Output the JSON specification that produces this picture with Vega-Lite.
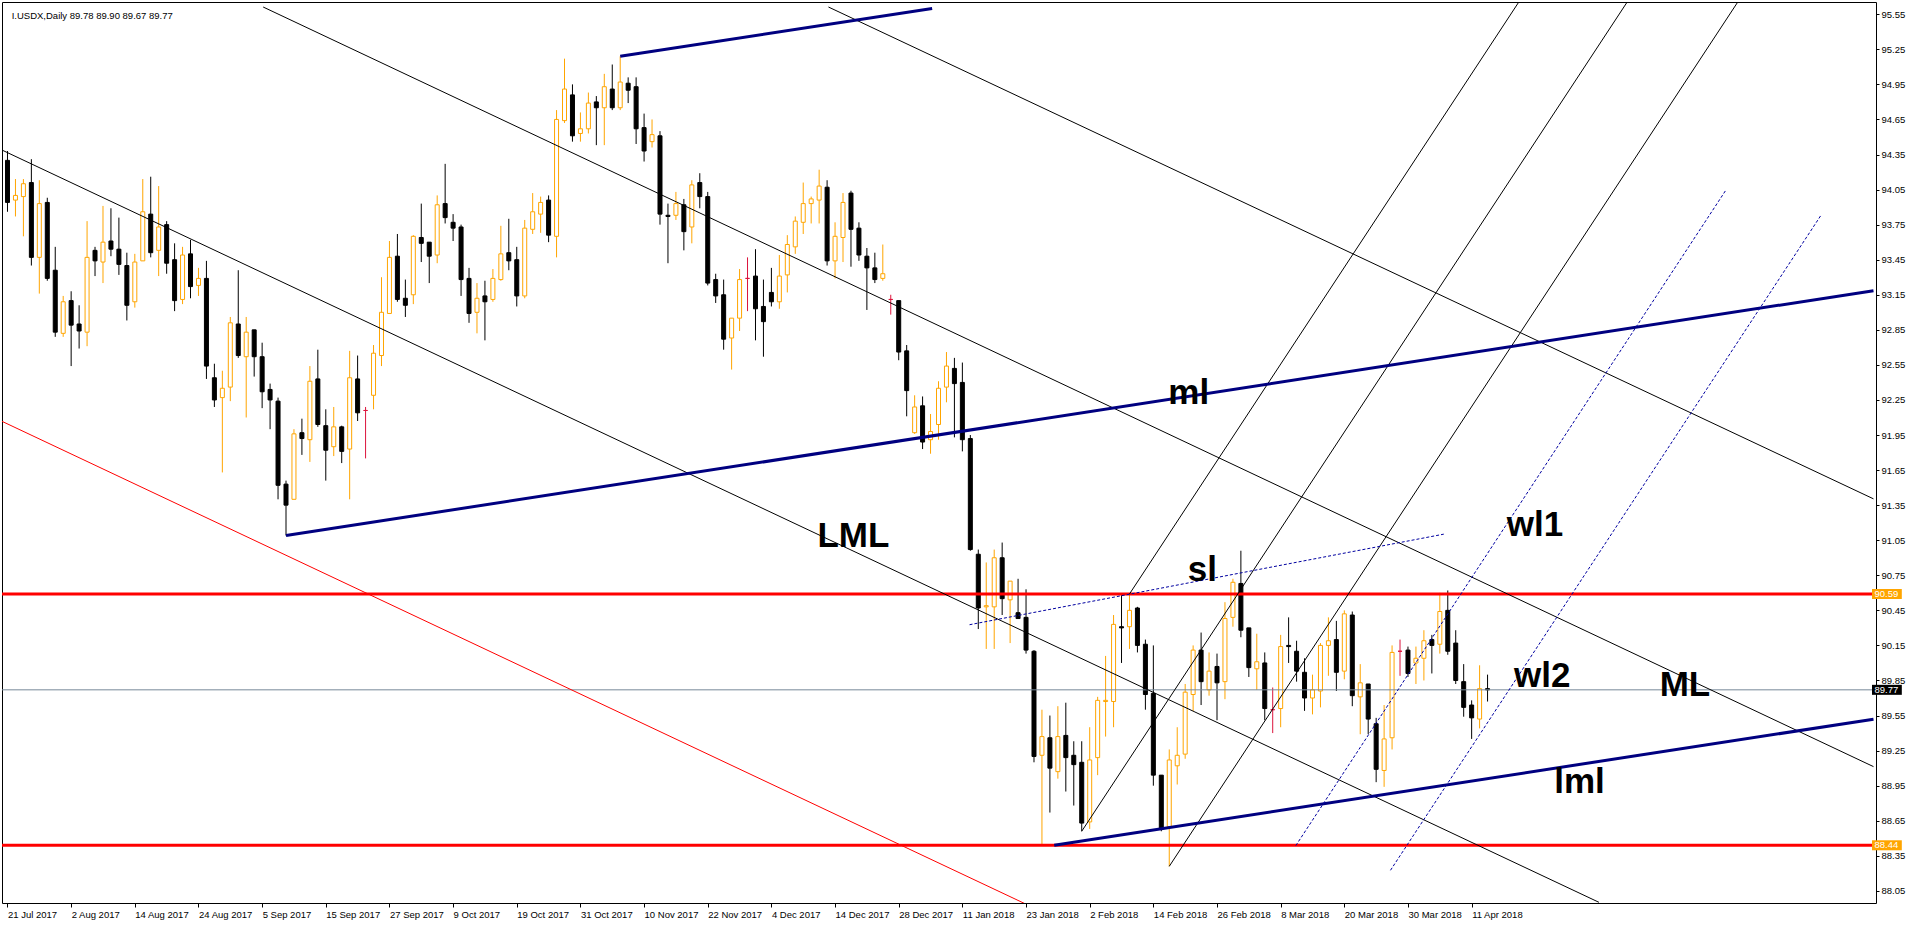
{
  "$schema": "https://vega.github.io/schema/vega-lite/v6.json",
  "width": 1874,
  "height": 901,
  "autosize": {"type": "none"},
  "padding": {"left": 2, "top": 2, "right": 37, "bottom": 22},
  "background": "white",
  "config": {
    "view": {"stroke": "#000000", "strokeWidth": 1},
    "axis": {"labelFont": "Liberation Sans", "labelFontSize": 9.5, "labelColor": "#000000", "tickColor": "#000000", "domain": false, "grid": false, "labelOverlap": false, "labelFlush": false, "labelBound": false, "title": null},
    "axisY": {"labelOverlap": false, "tickCount": 40},
    "axisX": {"labelOverlap": false, "tickCount": 40}
  },
  "datasets": {
    "candles": [
      {"i":0,"o":94.30,"h":94.38,"l":93.86,"c":93.94,"t":"d"},
      {"i":1,"o":93.96,"h":94.14,"l":93.82,"c":94.00,"t":"u"},
      {"i":2,"o":93.99,"h":94.14,"l":93.65,"c":94.10,"t":"u"},
      {"i":3,"o":94.11,"h":94.31,"l":93.40,"c":93.47,"t":"d"},
      {"i":4,"o":93.47,"h":94.13,"l":93.16,"c":93.93,"t":"u"},
      {"i":5,"o":93.94,"h":93.98,"l":93.27,"c":93.29,"t":"d"},
      {"i":6,"o":93.36,"h":93.56,"l":92.79,"c":92.83,"t":"d"},
      {"i":7,"o":92.82,"h":93.14,"l":92.79,"c":93.09,"t":"u"},
      {"i":8,"o":93.10,"h":93.18,"l":92.54,"c":92.89,"t":"d"},
      {"i":9,"o":92.90,"h":93.06,"l":92.69,"c":92.84,"t":"d"},
      {"i":10,"o":92.83,"h":93.78,"l":92.71,"c":93.47,"t":"u"},
      {"i":11,"o":93.53,"h":93.56,"l":93.31,"c":93.44,"t":"d"},
      {"i":12,"o":93.43,"h":93.91,"l":93.25,"c":93.60,"t":"u"},
      {"i":13,"o":93.61,"h":93.89,"l":93.48,"c":93.54,"t":"d"},
      {"i":14,"o":93.54,"h":93.81,"l":93.32,"c":93.41,"t":"d"},
      {"i":15,"o":93.40,"h":93.51,"l":92.93,"c":93.06,"t":"d"},
      {"i":16,"o":93.09,"h":93.50,"l":93.04,"c":93.43,"t":"u"},
      {"i":17,"o":93.44,"h":94.14,"l":93.44,"c":93.86,"t":"u"},
      {"i":18,"o":93.84,"h":94.16,"l":93.47,"c":93.51,"t":"d"},
      {"i":19,"o":93.53,"h":94.08,"l":93.31,"c":93.73,"t":"u"},
      {"i":20,"o":93.75,"h":93.78,"l":93.33,"c":93.42,"t":"d"},
      {"i":21,"o":93.45,"h":93.59,"l":93.01,"c":93.10,"t":"d"},
      {"i":22,"o":93.11,"h":93.56,"l":93.07,"c":93.49,"t":"u"},
      {"i":23,"o":93.50,"h":93.62,"l":93.12,"c":93.22,"t":"d"},
      {"i":24,"o":93.23,"h":93.38,"l":93.14,"c":93.29,"t":"u"},
      {"i":25,"o":93.29,"h":93.44,"l":92.43,"c":92.54,"t":"d"},
      {"i":26,"o":92.44,"h":92.56,"l":92.19,"c":92.25,"t":"d"},
      {"i":27,"o":92.27,"h":92.50,"l":91.63,"c":92.35,"t":"u"},
      {"i":28,"o":92.36,"h":92.96,"l":92.24,"c":92.91,"t":"u"},
      {"i":29,"o":92.90,"h":93.36,"l":92.61,"c":92.63,"t":"d"},
      {"i":30,"o":92.62,"h":92.96,"l":92.10,"c":92.83,"t":"u"},
      {"i":31,"o":92.85,"h":92.85,"l":92.45,"c":92.62,"t":"d"},
      {"i":32,"o":92.62,"h":92.74,"l":92.18,"c":92.32,"t":"d"},
      {"i":33,"o":92.34,"h":92.39,"l":92.00,"c":92.25,"t":"d"},
      {"i":34,"o":92.24,"h":92.27,"l":91.40,"c":91.52,"t":"d"},
      {"i":35,"o":91.53,"h":91.56,"l":91.09,"c":91.35,"t":"d"},
      {"i":36,"o":91.40,"h":92.00,"l":91.40,"c":91.96,"t":"u"},
      {"i":37,"o":91.97,"h":92.09,"l":91.78,"c":91.92,"t":"d"},
      {"i":38,"o":91.91,"h":92.54,"l":91.72,"c":92.41,"t":"u"},
      {"i":39,"o":92.43,"h":92.68,"l":92.02,"c":92.04,"t":"d"},
      {"i":40,"o":92.03,"h":92.17,"l":91.56,"c":91.82,"t":"d"},
      {"i":41,"o":91.85,"h":92.19,"l":91.77,"c":92.02,"t":"u"},
      {"i":42,"o":92.02,"h":92.03,"l":91.71,"c":91.81,"t":"d"},
      {"i":43,"o":91.83,"h":92.67,"l":91.40,"c":92.44,"t":"u"},
      {"i":44,"o":92.43,"h":92.63,"l":92.07,"c":92.14,"t":"d"},
      {"i":45,"o":92.16,"h":92.19,"l":91.75,"c":92.16,"t":"x"},
      {"i":46,"o":92.29,"h":92.72,"l":92.17,"c":92.65,"t":"u"},
      {"i":47,"o":92.63,"h":93.30,"l":92.54,"c":93.00,"t":"u"},
      {"i":48,"o":92.99,"h":93.61,"l":92.99,"c":93.47,"t":"u"},
      {"i":49,"o":93.48,"h":93.67,"l":93.09,"c":93.11,"t":"d"},
      {"i":50,"o":93.12,"h":93.28,"l":92.96,"c":93.06,"t":"d"},
      {"i":51,"o":93.15,"h":93.66,"l":93.07,"c":93.65,"t":"u"},
      {"i":52,"o":93.64,"h":93.93,"l":93.43,"c":93.59,"t":"d"},
      {"i":53,"o":93.60,"h":93.60,"l":93.25,"c":93.48,"t":"d"},
      {"i":54,"o":93.49,"h":94.00,"l":93.42,"c":93.92,"t":"u"},
      {"i":55,"o":93.93,"h":94.27,"l":93.76,"c":93.81,"t":"d"},
      {"i":56,"o":93.77,"h":93.84,"l":93.61,"c":93.72,"t":"d"},
      {"i":57,"o":93.73,"h":93.75,"l":93.14,"c":93.28,"t":"d"},
      {"i":58,"o":93.29,"h":93.38,"l":92.91,"c":92.99,"t":"d"},
      {"i":59,"o":93.00,"h":93.25,"l":92.82,"c":93.12,"t":"u"},
      {"i":60,"o":93.14,"h":93.27,"l":92.76,"c":93.09,"t":"d"},
      {"i":61,"o":93.11,"h":93.37,"l":93.09,"c":93.29,"t":"u"},
      {"i":62,"o":93.28,"h":93.74,"l":93.27,"c":93.50,"t":"u"},
      {"i":63,"o":93.51,"h":93.80,"l":93.36,"c":93.44,"t":"d"},
      {"i":64,"o":93.45,"h":93.56,"l":93.05,"c":93.14,"t":"d"},
      {"i":65,"o":93.14,"h":93.79,"l":93.12,"c":93.72,"t":"u"},
      {"i":66,"o":93.71,"h":94.02,"l":93.67,"c":93.86,"t":"u"},
      {"i":67,"o":93.84,"h":93.99,"l":93.68,"c":93.94,"t":"u"},
      {"i":68,"o":93.96,"h":94.00,"l":93.60,"c":93.66,"t":"d"},
      {"i":69,"o":93.65,"h":94.73,"l":93.47,"c":94.65,"t":"u"},
      {"i":70,"o":94.64,"h":95.17,"l":94.62,"c":94.91,"t":"u"},
      {"i":71,"o":94.86,"h":94.95,"l":94.46,"c":94.51,"t":"d"},
      {"i":72,"o":94.53,"h":94.71,"l":94.46,"c":94.57,"t":"u"},
      {"i":73,"o":94.57,"h":94.88,"l":94.53,"c":94.79,"t":"u"},
      {"i":74,"o":94.80,"h":94.85,"l":94.43,"c":94.75,"t":"d"},
      {"i":75,"o":94.75,"h":95.04,"l":94.43,"c":94.93,"t":"u"},
      {"i":76,"o":94.91,"h":95.12,"l":94.73,"c":94.75,"t":"d"},
      {"i":77,"o":94.75,"h":95.19,"l":94.73,"c":94.97,"t":"u"},
      {"i":78,"o":94.96,"h":95.01,"l":94.79,"c":94.90,"t":"d"},
      {"i":79,"o":94.93,"h":95.01,"l":94.44,"c":94.57,"t":"d"},
      {"i":80,"o":94.58,"h":94.70,"l":94.29,"c":94.38,"t":"d"},
      {"i":81,"o":94.46,"h":94.65,"l":94.41,"c":94.52,"t":"u"},
      {"i":82,"o":94.51,"h":94.55,"l":93.75,"c":93.84,"t":"d"},
      {"i":83,"o":93.83,"h":93.93,"l":93.42,"c":93.82,"t":"d"},
      {"i":84,"o":93.83,"h":94.03,"l":93.79,"c":93.93,"t":"u"},
      {"i":85,"o":93.92,"h":93.97,"l":93.53,"c":93.69,"t":"d"},
      {"i":86,"o":93.73,"h":94.13,"l":93.59,"c":94.09,"t":"u"},
      {"i":87,"o":94.11,"h":94.19,"l":93.89,"c":93.99,"t":"d"},
      {"i":88,"o":93.99,"h":94.03,"l":93.23,"c":93.25,"t":"d"},
      {"i":89,"o":93.28,"h":93.33,"l":93.08,"c":93.14,"t":"d"},
      {"i":90,"o":93.15,"h":93.28,"l":92.68,"c":92.77,"t":"d"},
      {"i":91,"o":92.78,"h":92.95,"l":92.51,"c":92.95,"t":"u"},
      {"i":92,"o":92.95,"h":93.37,"l":92.84,"c":93.28,"t":"u"},
      {"i":93,"o":93.29,"h":93.47,"l":93.01,"c":93.29,"t":"x"},
      {"i":94,"o":93.31,"h":93.54,"l":92.76,"c":93.03,"t":"d"},
      {"i":95,"o":93.05,"h":93.28,"l":92.62,"c":92.92,"t":"d"},
      {"i":96,"o":93.17,"h":93.38,"l":93.05,"c":93.09,"t":"d"},
      {"i":97,"o":93.09,"h":93.49,"l":93.03,"c":93.31,"t":"u"},
      {"i":98,"o":93.32,"h":93.66,"l":93.17,"c":93.58,"t":"u"},
      {"i":99,"o":93.56,"h":93.82,"l":93.50,"c":93.78,"t":"u"},
      {"i":100,"o":93.77,"h":94.11,"l":93.67,"c":93.93,"t":"u"},
      {"i":101,"o":93.93,"h":93.99,"l":93.76,"c":93.97,"t":"u"},
      {"i":102,"o":93.96,"h":94.22,"l":93.76,"c":94.08,"t":"u"},
      {"i":103,"o":94.07,"h":94.13,"l":93.40,"c":93.44,"t":"d"},
      {"i":104,"o":93.44,"h":93.77,"l":93.29,"c":93.65,"t":"u"},
      {"i":105,"o":93.64,"h":94.02,"l":93.43,"c":93.94,"t":"u"},
      {"i":106,"o":94.02,"h":94.04,"l":93.39,"c":93.71,"t":"d"},
      {"i":107,"o":93.72,"h":93.77,"l":93.44,"c":93.49,"t":"d"},
      {"i":108,"o":93.48,"h":93.55,"l":93.02,"c":93.38,"t":"d"},
      {"i":109,"o":93.38,"h":93.51,"l":93.25,"c":93.28,"t":"d"},
      {"i":110,"o":93.29,"h":93.58,"l":93.27,"c":93.33,"t":"u"},
      {"i":111,"o":93.11,"h":93.15,"l":92.98,"c":93.11,"t":"x"},
      {"i":112,"o":93.10,"h":93.10,"l":92.59,"c":92.66,"t":"d"},
      {"i":113,"o":92.67,"h":92.72,"l":92.11,"c":92.33,"t":"d"},
      {"i":114,"o":91.97,"h":92.29,"l":91.96,"c":92.19,"t":"u"},
      {"i":115,"o":92.20,"h":92.28,"l":91.83,"c":91.89,"t":"d"},
      {"i":116,"o":91.91,"h":92.13,"l":91.79,"c":91.98,"t":"u"},
      {"i":117,"o":92.04,"h":92.41,"l":91.91,"c":92.35,"t":"u"},
      {"i":118,"o":92.36,"h":92.66,"l":92.23,"c":92.54,"t":"u"},
      {"i":119,"o":92.52,"h":92.61,"l":91.93,"c":92.39,"t":"d"},
      {"i":120,"o":92.40,"h":92.57,"l":91.81,"c":91.91,"t":"d"},
      {"i":121,"o":91.92,"h":91.95,"l":90.96,"c":90.97,"t":"d"},
      {"i":122,"o":90.93,"h":90.97,"l":90.29,"c":90.47,"t":"d"},
      {"i":123,"o":90.48,"h":90.86,"l":90.12,"c":90.49,"t":"u"},
      {"i":124,"o":90.48,"h":90.97,"l":90.12,"c":90.90,"t":"u"},
      {"i":125,"o":90.90,"h":91.03,"l":90.41,"c":90.55,"t":"d"},
      {"i":126,"o":90.54,"h":90.70,"l":90.17,"c":90.70,"t":"u"},
      {"i":127,"o":90.43,"h":90.72,"l":90.38,"c":90.38,"t":"d"},
      {"i":128,"o":90.39,"h":90.63,"l":90.08,"c":90.11,"t":"d"},
      {"i":129,"o":90.10,"h":90.11,"l":89.15,"c":89.20,"t":"d"},
      {"i":130,"o":89.21,"h":89.60,"l":88.44,"c":89.37,"t":"u"},
      {"i":131,"o":89.36,"h":89.55,"l":88.72,"c":89.10,"t":"d"},
      {"i":132,"o":89.07,"h":89.63,"l":89.01,"c":89.37,"t":"u"},
      {"i":133,"o":89.38,"h":89.66,"l":88.90,"c":89.19,"t":"d"},
      {"i":134,"o":89.21,"h":89.33,"l":88.78,"c":89.13,"t":"d"},
      {"i":135,"o":89.15,"h":89.33,"l":88.56,"c":88.63,"t":"d"},
      {"i":136,"o":88.64,"h":89.45,"l":88.58,"c":89.17,"t":"u"},
      {"i":137,"o":89.19,"h":89.71,"l":89.04,"c":89.68,"t":"u"},
      {"i":138,"o":89.67,"h":90.06,"l":89.37,"c":89.68,"t":"u"},
      {"i":139,"o":89.67,"h":90.41,"l":89.45,"c":90.33,"t":"u"},
      {"i":140,"o":90.31,"h":90.58,"l":90.00,"c":90.30,"t":"d"},
      {"i":141,"o":90.31,"h":90.59,"l":90.12,"c":90.45,"t":"u"},
      {"i":142,"o":90.47,"h":90.48,"l":90.09,"c":90.15,"t":"d"},
      {"i":143,"o":90.16,"h":90.20,"l":89.60,"c":89.73,"t":"d"},
      {"i":144,"o":89.74,"h":90.15,"l":88.95,"c":89.04,"t":"d"},
      {"i":145,"o":89.04,"h":89.04,"l":88.56,"c":88.58,"t":"d"},
      {"i":146,"o":88.60,"h":89.26,"l":88.26,"c":89.17,"t":"u"},
      {"i":147,"o":89.12,"h":89.45,"l":88.96,"c":89.21,"t":"u"},
      {"i":148,"o":89.22,"h":89.82,"l":89.18,"c":89.75,"t":"u"},
      {"i":149,"o":89.73,"h":90.15,"l":89.59,"c":90.11,"t":"u"},
      {"i":150,"o":90.11,"h":90.26,"l":89.64,"c":89.84,"t":"d"},
      {"i":151,"o":89.77,"h":90.09,"l":89.72,"c":89.93,"t":"u"},
      {"i":152,"o":89.97,"h":90.08,"l":89.51,"c":89.83,"t":"d"},
      {"i":153,"o":89.84,"h":90.52,"l":89.69,"c":90.38,"t":"u"},
      {"i":154,"o":90.39,"h":90.72,"l":90.31,"c":90.69,"t":"u"},
      {"i":155,"o":90.68,"h":90.96,"l":90.22,"c":90.28,"t":"d"},
      {"i":156,"o":90.30,"h":90.30,"l":89.88,"c":89.96,"t":"d"},
      {"i":157,"o":89.95,"h":90.25,"l":89.77,"c":90.01,"t":"u"},
      {"i":158,"o":90.00,"h":90.09,"l":89.51,"c":89.61,"t":"d"},
      {"i":159,"o":89.60,"h":89.79,"l":89.40,"c":89.60,"t":"x"},
      {"i":160,"o":89.61,"h":90.24,"l":89.45,"c":90.14,"t":"u"},
      {"i":161,"o":90.15,"h":90.39,"l":90.00,"c":90.14,"t":"d"},
      {"i":162,"o":90.10,"h":90.19,"l":89.84,"c":89.93,"t":"d"},
      {"i":163,"o":89.92,"h":90.04,"l":89.59,"c":89.70,"t":"d"},
      {"i":164,"o":89.70,"h":89.90,"l":89.56,"c":89.77,"t":"u"},
      {"i":165,"o":89.76,"h":90.17,"l":89.62,"c":90.15,"t":"u"},
      {"i":166,"o":90.15,"h":90.39,"l":89.89,"c":90.19,"t":"u"},
      {"i":167,"o":90.20,"h":90.36,"l":89.76,"c":89.92,"t":"d"},
      {"i":168,"o":89.93,"h":90.45,"l":89.86,"c":90.42,"t":"u"},
      {"i":169,"o":90.41,"h":90.44,"l":89.63,"c":89.72,"t":"d"},
      {"i":170,"o":89.71,"h":89.99,"l":89.39,"c":89.83,"t":"u"},
      {"i":171,"o":89.82,"h":89.82,"l":89.39,"c":89.52,"t":"d"},
      {"i":172,"o":89.48,"h":89.53,"l":88.98,"c":89.09,"t":"d"},
      {"i":173,"o":89.08,"h":89.64,"l":88.94,"c":89.35,"t":"u"},
      {"i":174,"o":89.36,"h":90.15,"l":89.26,"c":90.09,"t":"u"},
      {"i":175,"o":90.10,"h":90.20,"l":89.89,"c":90.10,"t":"x"},
      {"i":176,"o":90.11,"h":90.14,"l":89.88,"c":89.91,"t":"d"},
      {"i":177,"o":90.00,"h":90.14,"l":89.82,"c":90.04,"t":"u"},
      {"i":178,"o":90.04,"h":90.28,"l":89.85,"c":90.19,"t":"u"},
      {"i":179,"o":90.20,"h":90.24,"l":89.91,"c":90.15,"t":"d"},
      {"i":180,"o":90.16,"h":90.60,"l":90.08,"c":90.44,"t":"u"},
      {"i":181,"o":90.45,"h":90.62,"l":90.07,"c":90.10,"t":"d"},
      {"i":182,"o":90.17,"h":90.28,"l":89.82,"c":89.85,"t":"d"},
      {"i":183,"o":89.84,"h":89.99,"l":89.54,"c":89.62,"t":"d"},
      {"i":184,"o":89.64,"h":89.68,"l":89.35,"c":89.53,"t":"d"},
      {"i":185,"o":89.52,"h":89.98,"l":89.44,"c":89.78,"t":"u"},
      {"i":186,"o":89.78,"h":89.90,"l":89.67,"c":89.77,"t":"d"}
    ],
    "lines": [
      {"id":"ML","s":"black","i":32.13,"p":95.612},{"id":"ML","s":"black","i":234.5,"p":89.113},
      {"id":"LML","s":"black","i":-1,"p":94.398},{"id":"LML","s":"black","i":200,"p":87.952},
      {"id":"UML","s":"black","i":103.17,"p":95.612},{"id":"UML","s":"black","i":234.5,"p":91.404},
      {"id":"S1","s":"black","i":141,"p":90.59},{"id":"S1","s":"black","i":190,"p":95.662},
      {"id":"S2","s":"black","i":135,"p":88.56},{"id":"S2","s":"black","i":205,"p":95.805},
      {"id":"S3","s":"black","i":146,"p":88.26},{"id":"S3","s":"black","i":218,"p":95.712},
      {"id":"R","s":"red","i":-1,"p":92.077},{"id":"R","s":"red","i":130,"p":87.872},
      {"id":"ml","s":"navy","i":35,"p":91.09},{"id":"ml","s":"navy","i":234.5,"p":93.185},
      {"id":"top","s":"navy","i":77,"p":95.19},{"id":"top","s":"navy","i":116.2,"p":95.60},
      {"id":"lml","s":"navy","i":131.54,"p":88.44},{"id":"lml","s":"navy","i":234.5,"p":89.519},
      {"id":"sl","s":"dot","i":120.9,"p":90.327},{"id":"sl","s":"dot","i":180.5,"p":91.102},
      {"id":"wl1","s":"dot","i":161.9,"p":88.437},{"id":"wl1","s":"dot","i":215.9,"p":94.04},
      {"id":"wl2","s":"dot","i":173.8,"p":88.226},{"id":"wl2","s":"dot","i":227.9,"p":93.83}
    ],
    "levels": [
      {"v":90.59,"k":"r"},
      {"v":88.44,"k":"r"},
      {"v":89.77,"k":"b"}
    ],
    "notes": [
      {"txt":"ML","i":210.8,"p":89.721},
      {"txt":"LML","i":106.3,"p":90.990},
      {"txt":"sl","i":150.15,"p":90.699},
      {"txt":"wl1","i":191.97,"p":91.088},
      {"txt":"wl2","i":192.87,"p":89.791},
      {"txt":"lml","i":197.56,"p":88.888},
      {"txt":"ml","i":148.44,"p":92.217}
    ]
  },
  "layer": [
    {
      "data": {"name": "candles"},
      "mark": {"type": "rule", "strokeWidth": 1},
      "encoding": {
        "x": {"field": "i", "type": "quantitative", "scale": {"domain": [-0.0625, 234.1875], "nice": false, "zero": false},
          "axis": {"orient": "bottom", "title": null, "tickCount": 40, "values": [0,8,16,24,32,40,48,56,64,72,80,88,96,104,112,120,128,136,144,152,160,168,176,184],
            "labelExpr": "['21 Jul 2017','2 Aug 2017','14 Aug 2017','24 Aug 2017','5 Sep 2017','15 Sep 2017','27 Sep 2017','9 Oct 2017','19 Oct 2017','31 Oct 2017','10 Nov 2017','22 Nov 2017','4 Dec 2017','14 Dec 2017','28 Dec 2017','11 Jan 2018','23 Jan 2018','2 Feb 2018','14 Feb 2018','26 Feb 2018','8 Mar 2018','20 Mar 2018','30 Mar 2018','11 Apr 2018'][round(datum.value / 8)]",
            "labelAlign": "left", "labelOffset": 0, "labelPadding": 2, "tickSize": 4, "labelOverlap": false, "labelFlush": false, "labelBound": false}},
        "y": {"field": "l", "type": "quantitative", "scale": {"domain": [87.989, 95.612], "nice": false, "zero": false},
          "axis": {"orient": "right", "title": null, "tickCount": 40, "values": [88.05,88.35,88.65,88.95,89.25,89.55,89.85,90.15,90.45,90.75,91.05,91.35,91.65,91.95,92.25,92.55,92.85,93.15,93.45,93.75,94.05,94.35,94.65,94.95,95.25,95.55],
            "format": ".2f", "tickSize": 3, "labelPadding": 2, "labelOverlap": false, "labelFlush": false, "labelBound": false, "labelBaseline": "middle"}},
        "y2": {"field": "h"},
        "color": {"field": "t", "type": "nominal", "scale": {"domain": ["u","d","x"], "range": ["#FFA500","#000000","#DC143C"]}, "legend": null}
      }
    },
    {
      "data": {"name": "candles"},
      "mark": {"type": "bar", "size": 4, "strokeWidth": 1},
      "encoding": {
        "x": {"field": "i", "type": "quantitative", "scale": {"domain": [-0.0625, 234.1875], "nice": false, "zero": false}},
        "y": {"field": "o", "type": "quantitative", "scale": {"domain": [87.989, 95.612], "nice": false, "zero": false}},
        "y2": {"field": "c"},
        "fill": {"field": "t", "type": "nominal", "scale": {"domain": ["u","d","x"], "range": ["#FFFFFF","#000000","#DC143C"]}, "legend": null},
        "stroke": {"field": "t", "type": "nominal", "scale": {"domain": ["u","d","x"], "range": ["#FFA500","#000000","#DC143C"]}, "legend": null}
      }
    },
    {
      "data": {"name": "levels"},
      "transform": [{"filter": {"field": "k", "equal": "r"}}],
      "mark": {"type": "rule", "color": "#FF0000", "strokeWidth": 3},
      "encoding": {
        "y": {"field": "v", "type": "quantitative", "scale": {"domain": [87.989, 95.612], "nice": false, "zero": false}}
      }
    },
    {
      "data": {"name": "levels"},
      "transform": [{"filter": {"field": "k", "equal": "b"}}],
      "mark": {"type": "rule", "color": "#778899", "strokeWidth": 1},
      "encoding": {
        "y": {"field": "v", "type": "quantitative", "scale": {"domain": [87.989, 95.612], "nice": false, "zero": false}}
      }
    },
    {
      "data": {"name": "lines"},
      "transform": [{"filter": {"field": "s", "equal": "black"}}],
      "mark": {"type": "line", "clip": true, "color": "#000000", "strokeWidth": 1},
      "encoding": {
        "x": {"field": "i", "type": "quantitative", "scale": {"domain": [-0.0625, 234.1875], "nice": false, "zero": false}},
        "y": {"field": "p", "type": "quantitative", "scale": {"domain": [87.989, 95.612], "nice": false, "zero": false}},
        "detail": {"field": "id"}
      }
    },
    {
      "data": {"name": "lines"},
      "transform": [{"filter": {"field": "s", "equal": "red"}}],
      "mark": {"type": "line", "clip": true, "color": "#FF0000", "strokeWidth": 1},
      "encoding": {
        "x": {"field": "i", "type": "quantitative", "scale": {"domain": [-0.0625, 234.1875], "nice": false, "zero": false}},
        "y": {"field": "p", "type": "quantitative", "scale": {"domain": [87.989, 95.612], "nice": false, "zero": false}},
        "detail": {"field": "id"}
      }
    },
    {
      "data": {"name": "lines"},
      "transform": [{"filter": {"field": "s", "equal": "navy"}}],
      "mark": {"type": "line", "clip": true, "color": "#000080", "strokeWidth": 3},
      "encoding": {
        "x": {"field": "i", "type": "quantitative", "scale": {"domain": [-0.0625, 234.1875], "nice": false, "zero": false}},
        "y": {"field": "p", "type": "quantitative", "scale": {"domain": [87.989, 95.612], "nice": false, "zero": false}},
        "detail": {"field": "id"}
      }
    },
    {
      "data": {"name": "lines"},
      "transform": [{"filter": {"field": "s", "equal": "dot"}}],
      "mark": {"type": "line", "clip": true, "color": "#0000A0", "strokeWidth": 1, "strokeDash": [3, 2]},
      "encoding": {
        "x": {"field": "i", "type": "quantitative", "scale": {"domain": [-0.0625, 234.1875], "nice": false, "zero": false}},
        "y": {"field": "p", "type": "quantitative", "scale": {"domain": [87.989, 95.612], "nice": false, "zero": false}},
        "detail": {"field": "id"}
      }
    },
    {
      "data": {"name": "notes"},
      "mark": {"type": "text", "font": "Liberation Sans", "fontWeight": "bold", "fontSize": 35, "align": "center", "baseline": "alphabetic", "color": "#000000"},
      "encoding": {
        "x": {"field": "i", "type": "quantitative", "scale": {"domain": [-0.0625, 234.1875], "nice": false, "zero": false}},
        "y": {"field": "p", "type": "quantitative", "scale": {"domain": [87.989, 95.612], "nice": false, "zero": false}},
        "text": {"field": "txt"}
      }
    },
    {
      "data": {"name": "levels"},
      "mark": {"type": "bar", "clip": false, "size": 10},
      "encoding": {
        "x": {"datum": 234.31, "type": "quantitative", "scale": {"domain": [-0.0625, 234.1875], "nice": false, "zero": false}},
        "x2": {"datum": 238.06},
        "y": {"field": "v", "type": "quantitative", "scale": {"domain": [87.989, 95.612], "nice": false, "zero": false}},
        "color": {"field": "k", "type": "nominal", "scale": {"domain": ["r","b"], "range": ["#FF0000","#000000"]}, "legend": null}
      }
    },
    {
      "data": {"name": "levels"},
      "mark": {"type": "text", "clip": false, "font": "Liberation Sans", "fontSize": 9.5, "align": "left", "baseline": "middle", "color": "#FFFFFF"},
      "encoding": {
        "x": {"datum": 234.62, "type": "quantitative", "scale": {"domain": [-0.0625, 234.1875], "nice": false, "zero": false}},
        "y": {"field": "v", "type": "quantitative", "scale": {"domain": [87.989, 95.612], "nice": false, "zero": false}},
        "text": {"field": "v", "format": ".2f"}
      }
    },
    {
      "data": {"values": [{"txt": "I.USDX,Daily  89.78 89.90 89.67 89.77"}]},
      "mark": {"type": "text", "font": "Liberation Sans", "fontSize": 9.5, "align": "left", "baseline": "alphabetic", "color": "#000000"},
      "encoding": {
        "x": {"datum": 0.525, "type": "quantitative", "scale": {"domain": [-0.0625, 234.1875], "nice": false, "zero": false}},
        "y": {"datum": 95.51, "type": "quantitative", "scale": {"domain": [87.989, 95.612], "nice": false, "zero": false}},
        "text": {"field": "txt"}
      }
    }
  ]
}
